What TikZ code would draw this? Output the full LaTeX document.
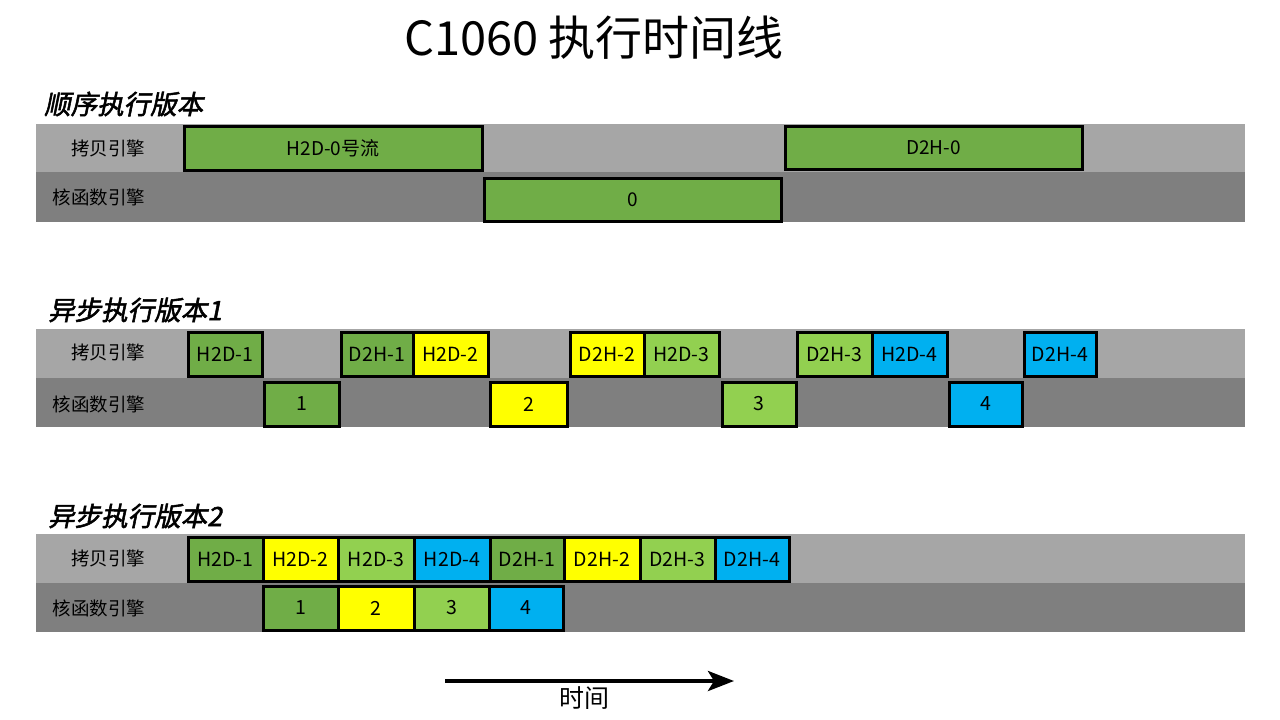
\documentclass[tikz,border=0pt]{standalone}
\usepackage{fontspec}
\setmainfont{Noto Sans CJK SC}
\newfontfamily\cjk{Noto Sans CJK SC}
\newfontfamily\cjkbi[FakeSlant=0.2,FakeBold=2]{Noto Sans CJK SC}
\usetikzlibrary{arrows.meta}
\definecolor{rowlight}{HTML}{A6A6A6}
\definecolor{rowdark}{HTML}{7F7F7F}
\definecolor{cgreen}{HTML}{70AD47}
\definecolor{cyellow}{HTML}{FFFF00}
\definecolor{clight}{HTML}{92D050}
\definecolor{cblue}{HTML}{00B0F0}
\tikzset{
  rowbox/.style={inner sep=0pt, draw=none},
  taskbox/.style={draw=black, line width=3pt, inner sep=0pt, font=\cjk\fontsize{19.5}{22}\selectfont},
  bigtask/.style={taskbox, font=\cjk\fontsize{19}{22}\selectfont},
  rowlabel/.style={font=\cjk\fontsize{18.5}{21}\selectfont, inner sep=0pt},
  heading/.style={font=\cjkbi\fontsize{26.5}{30}\selectfont, anchor=west, inner sep=0pt},
}
% \taskb{name}{x1}{y1}{x2}{y2}{style}{text}
\newcommand\taskb[7]{%
  \node[#6, minimum width={#4-#2}, minimum height={#5-#3}] (#1) at ({(#2+#4)/2},{(#3+#5)/2}) {#7};}
\begin{document}
\begin{tikzpicture}[x=1pt,y=-1pt]
\useasboundingbox[fill=white] (0,0) rectangle (1280,720);
% title
\node[font=\cjk\fontsize{47}{52}\selectfont, inner sep=0pt] (title) at (594,38) {C1060 执行时间线};

% ===== section 1 =====
\node[heading] (h1) at (44,104) {顺序执行版本};
\taskb{r1a}{36}{124}{1245}{172}{rowbox, fill=rowlight}{}
\taskb{r1b}{36}{172}{1245}{222}{rowbox, fill=rowdark}{}
\node[rowlabel] (l1a) at (108,148) {拷贝引擎};
\node[rowlabel] (l1b) at (99,197) {核函数引擎};
\taskb{s1h}{184}{126}{482}{170}{bigtask, fill=cgreen}{H2D-0号流}
\taskb{s1k}{484}{178}{781}{221}{bigtask, fill=cgreen}{0}
\taskb{s1d}{785}{126}{1082}{169}{bigtask, fill=cgreen}{D2H-0}

% ===== section 2 =====
\node[heading] (h2) at (48,310) {异步执行版本1};
\taskb{r2a}{36}{329}{1245}{378}{rowbox, fill=rowlight}{}
\taskb{r2b}{36}{378}{1245}{427}{rowbox, fill=rowdark}{}
\node[rowlabel] (l2a) at (108,352) {拷贝引擎};
\node[rowlabel] (l2b) at (99,404) {核函数引擎};
\taskb{a2h1}{188}{332}{262}{376}{taskbox, fill=cgreen}{H2D-1}
\taskb{a2d1}{341}{332}{413}{376}{taskbox, fill=cgreen}{D2H-1}
\taskb{a2h2}{413}{332}{488}{376}{taskbox, fill=cyellow}{H2D-2}
\taskb{a2d2}{570}{332}{644}{376}{taskbox, fill=cyellow}{D2H-2}
\taskb{a2h3}{644}{332}{719}{376}{taskbox, fill=clight}{H2D-3}
\taskb{a2d3}{797}{332}{872}{376}{taskbox, fill=clight}{D2H-3}
\taskb{a2h4}{872}{332}{947}{376}{taskbox, fill=cblue}{H2D-4}
\taskb{a2d4}{1024}{332}{1096}{376}{taskbox, fill=cblue}{D2H-4}
\taskb{a2k1}{264}{382}{339}{426}{taskbox, fill=cgreen}{1}
\taskb{a2k2}{490}{382}{567}{426}{taskbox, fill=cyellow}{2}
\taskb{a2k3}{722}{382}{796}{426}{taskbox, fill=clight}{3}
\taskb{a2k4}{949}{382}{1022}{426}{taskbox, fill=cblue}{4}

% ===== section 3 =====
\node[heading] (h3) at (48,516) {异步执行版本2};
\taskb{r3a}{36}{534}{1245}{583}{rowbox, fill=rowlight}{}
\taskb{r3b}{36}{583}{1245}{632}{rowbox, fill=rowdark}{}
\node[rowlabel] (l3a) at (108,558) {拷贝引擎};
\node[rowlabel] (l3b) at (99,608) {核函数引擎};
\taskb{b3h1}{188}{537}{263}{581}{taskbox, fill=cgreen}{H2D-1}
\taskb{b3h2}{263}{537}{338}{581}{taskbox, fill=cyellow}{H2D-2}
\taskb{b3h3}{338}{537}{414}{581}{taskbox, fill=clight}{H2D-3}
\taskb{b3h4}{414}{537}{490}{581}{taskbox, fill=cblue}{H2D-4}
\taskb{b3d1}{490}{537}{564}{581}{taskbox, fill=cgreen}{D2H-1}
\taskb{b3d2}{564}{537}{640}{581}{taskbox, fill=cyellow}{D2H-2}
\taskb{b3d3}{640}{537}{715}{581}{taskbox, fill=clight}{D2H-3}
\taskb{b3d4}{715}{537}{789}{581}{taskbox, fill=cblue}{D2H-4}
\taskb{b3k1}{263}{586}{338}{630}{taskbox, fill=cgreen}{1}
\taskb{b3k2}{338}{586}{414}{630}{taskbox, fill=cyellow}{2}
\taskb{b3k3}{414}{586}{489}{630}{taskbox, fill=clight}{3}
\taskb{b3k4}{489}{586}{563}{630}{taskbox, fill=cblue}{4}

% ===== time arrow =====
\coordinate (ta) at (445,681);
\coordinate (tb) at (734,681);
\draw[line width=4pt, -{Stealth[length=26pt,width=20pt,inset=6pt]}] (ta) -- (tb);
\node[font=\cjk\fontsize{25}{28}\selectfont, inner sep=0pt] (tlabel) at (584,698) {时间};
\end{tikzpicture}
\end{document}
